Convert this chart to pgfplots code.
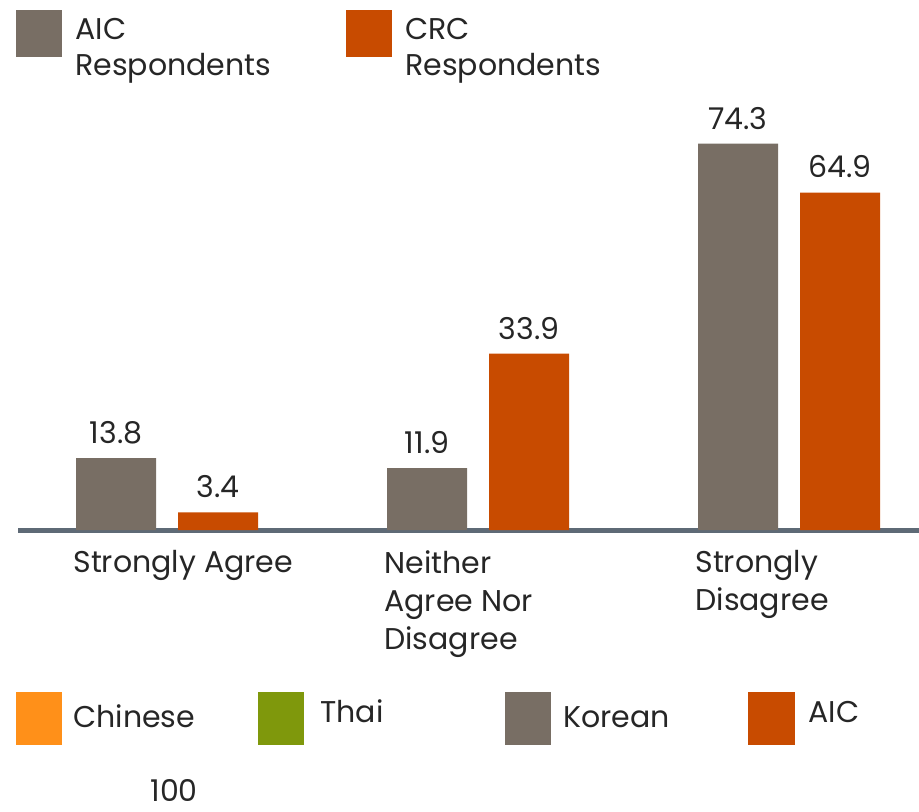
\documentclass[border=0pt]{standalone}
\usepackage{fontspec}
\setmainfont{Poppins}
\usepackage{pgfplots}
\pgfplotsset{compat=1.18}
\definecolor{aicgrey}{HTML}{786E64}
\definecolor{crcorange}{HTML}{C84B00}
\definecolor{chin}{HTML}{FF9019}
\definecolor{thai}{HTML}{7F980C}
\definecolor{axisline}{HTML}{5E6A76}
\definecolor{txt}{HTML}{262626}
\newcommand{\lbl}{\fontsize{15}{19}\selectfont}
\begin{document}
\begin{tikzpicture}
\path[use as bounding box] (0,0) rectangle (459.5pt,-406pt);
\begin{axis}[
  anchor=origin, at={(83.5pt,-265pt)},
  x=155.5pt, y=2.6pt,
  xmin=-0.479, xmax=2.418, ymin=0, ymax=80,
  axis x line*=bottom, axis y line=none,
  x axis line style={line width=2.5pt, color=axisline, -},
  ybar=11pt, bar width=40pt,
  xtick={0,1,2}, major tick length=0pt,
  xticklabels={{Strongly Agree},{Neither\\Agree Nor\\Disagree},{Strongly\\Disagree}},
  xticklabel style={align=left, anchor=north west, inner sep=0pt, xshift=-47pt, yshift=-10pt, font=\lbl, text=txt},
  ytick=\empty,
  nodes near coords,
  nodes near coords style={font=\lbl, text=txt, anchor=south, inner sep=0pt, yshift=7pt, /pgf/number format/assume math mode=true, /pgf/number format/fixed, /pgf/number format/precision=1, /pgf/number format/fixed zerofill},
  clip=false,
]
\addplot[fill=aicgrey, draw=none] coordinates {(0,13.8) (1,11.9) (2,74.3)};
\addplot[fill=crcorange, draw=none] coordinates {(0,3.4) (1,33.9) (2,64.9)};
\end{axis}
\begin{scope}[x=0.5pt,y=-0.5pt, every node/.style={font=\lbl, text=txt, inner sep=0pt, anchor=base west}]
  % top legend
  \fill[aicgrey] (16,10) rectangle (62,57);
  \node at (75,40) {AIC};
  \node at (75,76) {Respondents};
  \fill[crcorange] (346,10) rectangle (392,57);
  \node at (405,40) {CRC};
  \node at (405,76) {Respondents};
  % bottom legend
  \fill[chin] (16,692) rectangle (62,745);
  \node at (73,727) {Chinese};
  \fill[thai] (258,692) rectangle (304,745);
  \node at (320,722) {Thai};
  \fill[aicgrey] (505,692) rectangle (551,745);
  \node at (563,727) {Korean};
  \fill[crcorange] (748,692) rectangle (795,745);
  \node at (808,722) {AIC};
  \node at (150,801) {100};
\end{scope}
\end{tikzpicture}
\end{document}
